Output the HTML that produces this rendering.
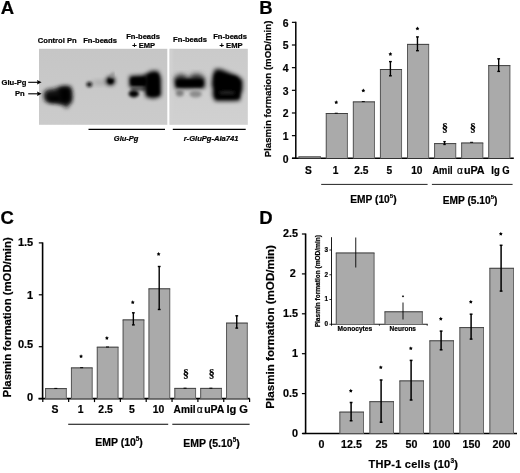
<!DOCTYPE html>
<html><head><meta charset="utf-8"><style>
html,body{margin:0;padding:0;background:#fff;}
body{width:520px;height:473px;overflow:hidden;}
svg{display:block;font-family:"Liberation Sans", sans-serif;filter:blur(0.3px);}
text{stroke:#000;stroke-width:0.2px;}
</style></head><body>
<svg width="520" height="473" viewBox="0 0 520 473" fill="#000">
<rect width="520" height="473" fill="#fff"/>
<text x="0.8" y="14.3" font-size="18.5" text-anchor="start" font-weight="bold" font-style="normal" >A</text>
<text x="259.3" y="13.5" font-size="18.5" text-anchor="start" font-weight="bold" font-style="normal" >B</text>
<text x="0.4" y="224.2" font-size="18.5" text-anchor="start" font-weight="bold" font-style="normal" >C</text>
<text x="259.2" y="224.2" font-size="18.5" text-anchor="start" font-weight="bold" font-style="normal" >D</text>
<text x="57.2" y="42.9" font-size="7.6" text-anchor="middle" font-weight="bold" font-style="normal" >Control Pn</text>
<text x="100.1" y="42.9" font-size="7.6" text-anchor="middle" font-weight="bold" font-style="normal" >Fn-beads</text>
<text x="143.1" y="38.8" font-size="7.6" text-anchor="middle" font-weight="bold" font-style="normal" >Fn-beads</text>
<text x="143.7" y="48.0" font-size="7.6" text-anchor="middle" font-weight="bold" font-style="normal" >+ EMP</text>
<text x="190.0" y="42.4" font-size="7.6" text-anchor="middle" font-weight="bold" font-style="normal" >Fn-beads</text>
<text x="230.1" y="38.8" font-size="7.6" text-anchor="middle" font-weight="bold" font-style="normal" >Fn-beads</text>
<text x="231.1" y="48.0" font-size="7.6" text-anchor="middle" font-weight="bold" font-style="normal" >+ EMP</text>
<text x="1.6" y="85.3" font-size="7.6" text-anchor="start" font-weight="bold" font-style="normal" >Glu-Pg</text>
<text x="15.0" y="96.4" font-size="7.6" text-anchor="start" font-weight="bold" font-style="normal" >Pn</text>
<defs>
<filter id="b1" x="-50%" y="-50%" width="200%" height="200%"><feGaussianBlur stdDeviation="1.4"/></filter>
<filter id="b2" x="-50%" y="-50%" width="200%" height="200%"><feGaussianBlur stdDeviation="2.6"/></filter>
<filter id="b3" x="-50%" y="-50%" width="200%" height="200%"><feGaussianBlur stdDeviation="1.0"/></filter>
<filter id="b4" x="-50%" y="-50%" width="200%" height="200%"><feGaussianBlur stdDeviation="2.0"/></filter>
<clipPath id="cb1"><rect x="39" y="48.8" width="128.3" height="76"/></clipPath>
<clipPath id="cb2"><rect x="169.5" y="48.8" width="78.3" height="76"/></clipPath>
<linearGradient id="gb" x1="0" y1="0" x2="0" y2="1"><stop offset="0" stop-color="#c6c6c6"/><stop offset="1" stop-color="#cbcbcb"/></linearGradient>
<linearGradient id="gb2" x1="0" y1="0" x2="0" y2="1"><stop offset="0" stop-color="#cacaca"/><stop offset="1" stop-color="#d1d1d1"/></linearGradient>
</defs>
<rect x="39" y="48.8" width="128.3" height="76" fill="url(#gb)" stroke="none" stroke-width="0"/>
<rect x="169.5" y="48.8" width="78.3" height="76" fill="url(#gb2)" stroke="none" stroke-width="0"/>
<g clip-path="url(#cb1)">
<path d="M43.5 93 L47 89.5 L53 89 L58 87.5 L64 85.8 L70.5 86.5 L72.5 93 L72 101 L69 105 L66.5 108.5 L63.5 105 L57 103.5 L50 103 L44.5 100.5 Z" fill="#141414" filter="url(#b4)"/>
<path d="M59 88 L70 88 L70.5 102 L60 103 Z" fill="#000" filter="url(#b4)"/>
<path d="M47 96 L60 95 L60 102 L48 101.5 Z" fill="#000" filter="url(#b4)"/>
<ellipse cx="100" cy="82.6" rx="9" ry="2.4" fill="#a8a8a8" filter="url(#b2)"/>
<ellipse cx="89.3" cy="84.5" rx="2.8" ry="2.4" fill="#111" filter="url(#b1)"/>
<ellipse cx="110.5" cy="80.9" rx="4.6" ry="4.4" fill="#000" filter="url(#b4)"/>
<ellipse cx="110.5" cy="81.0" rx="2.5" ry="2.5" fill="#000" filter="url(#b3)"/>
<line x1="111" y1="78" x2="113.5" y2="72.5" stroke="#8a8a8a" stroke-width="2.6" filter="url(#b1)"/>
<path d="M129.5 76 L148 75 L148 87.5 L129.5 87 Z" fill="#000" filter="url(#b4)"/>
<path d="M131 78 L146 78 L146 85.5 L131 85.5 Z" fill="#000" filter="url(#b1)"/>
<path d="M131 87 L146 87 L146 90.5 L131 90.5 Z" fill="#4a4a4a" filter="url(#b1)"/>
<ellipse cx="133.8" cy="93.8" rx="5.2" ry="3.6" fill="#000" filter="url(#b1)"/>
<path d="M145 75 L151 71 L158 71 L161 78 L161 96 L154 98.5 L146 97 L144.5 90 Z" fill="#000" filter="url(#b4)"/>
<path d="M148 75 L158 74 L159 95 L148 95 Z" fill="#000" filter="url(#b1)"/>
</g>
<g clip-path="url(#cb2)">
<rect x="169.5" y="48.8" width="3" height="76" fill="#d2d2d2" filter="url(#b3)"/>
<ellipse cx="181" cy="78" rx="6" ry="4" fill="#444" filter="url(#b2)"/>
<ellipse cx="196.5" cy="77.5" rx="7" ry="4" fill="#444" filter="url(#b2)"/>
<path d="M174.5 78.5 L204.5 78 L205 88 L175 88.5 Z" fill="#000" filter="url(#b4)"/>
<path d="M177 80 L202 80 L202 86.5 L177 86.5 Z" fill="#000" filter="url(#b1)"/>
<ellipse cx="179.8" cy="93.0" rx="4" ry="3.6" fill="#808080" filter="url(#b1)"/>
<ellipse cx="195.6" cy="94.0" rx="6.2" ry="3.4" fill="#8c8c8c" filter="url(#b1)"/>
<path d="M212.5 76 L215 69 L221 69.3 L230 73 L238 76 L242.5 80 L242.5 90 L240.5 95 L240 100.5 L232 101 L215 101 L212.5 95 L213 89 L211.5 85 Z" fill="#000" filter="url(#b4)"/>
<path d="M215 74 L236 77 L240 82 L239 98 L216 98 Z" fill="#000" filter="url(#b1)"/>
<ellipse cx="227" cy="92.8" rx="8" ry="1.8" fill="#262626" filter="url(#b1)"/>
</g>
<line x1="28.2" y1="82.3" x2="38.0" y2="82.3" stroke="#000" stroke-width="1.1"/>
<path d="M41.6 82.3 L37.0 80.0 L37.6 82.3 L37.0 84.6 Z" fill="#000"/>
<line x1="28.2" y1="93.8" x2="38.0" y2="93.8" stroke="#000" stroke-width="1.1"/>
<path d="M41.6 93.8 L37.0 91.5 L37.6 93.8 L37.0 96.1 Z" fill="#000"/>
<line x1="88.5" y1="129.4" x2="165" y2="129.4" stroke="#000" stroke-width="1.1"/>
<line x1="172.8" y1="129.4" x2="245.7" y2="129.4" stroke="#000" stroke-width="1.1"/>
<text x="126.1" y="141.2" font-size="7.5" text-anchor="middle" font-weight="bold" font-style="italic" >Glu-Pg</text>
<text x="211.1" y="141.0" font-size="7.6" text-anchor="middle" font-weight="bold" font-style="italic" >r-GluPg-Ala741</text>
<line x1="295.8" y1="21.840000000000003" x2="295.8" y2="158.3" stroke="#000" stroke-width="1.5"/>
<line x1="292.0" y1="158.3" x2="513.8" y2="158.3" stroke="#000" stroke-width="1.5"/>
<line x1="291.9" y1="158.3" x2="295.8" y2="158.3" stroke="#000" stroke-width="1.2"/>
<text x="288.5" y="162.5" font-size="10.4" text-anchor="end" font-weight="bold" font-style="normal" >0</text>
<line x1="291.9" y1="135.64000000000001" x2="295.8" y2="135.64000000000001" stroke="#000" stroke-width="1.2"/>
<text x="288.5" y="139.84" font-size="10.4" text-anchor="end" font-weight="bold" font-style="normal" >1</text>
<line x1="291.9" y1="112.98000000000002" x2="295.8" y2="112.98000000000002" stroke="#000" stroke-width="1.2"/>
<text x="288.5" y="117.18000000000002" font-size="10.4" text-anchor="end" font-weight="bold" font-style="normal" >2</text>
<line x1="291.9" y1="90.32000000000001" x2="295.8" y2="90.32000000000001" stroke="#000" stroke-width="1.2"/>
<text x="288.5" y="94.52000000000001" font-size="10.4" text-anchor="end" font-weight="bold" font-style="normal" >3</text>
<line x1="291.9" y1="67.66000000000001" x2="295.8" y2="67.66000000000001" stroke="#000" stroke-width="1.2"/>
<text x="288.5" y="71.86000000000001" font-size="10.4" text-anchor="end" font-weight="bold" font-style="normal" >4</text>
<line x1="291.9" y1="45.000000000000014" x2="295.8" y2="45.000000000000014" stroke="#000" stroke-width="1.2"/>
<text x="288.5" y="49.20000000000002" font-size="10.4" text-anchor="end" font-weight="bold" font-style="normal" >5</text>
<line x1="291.9" y1="22.340000000000003" x2="295.8" y2="22.340000000000003" stroke="#000" stroke-width="1.2"/>
<text x="288.5" y="26.540000000000003" font-size="10.4" text-anchor="end" font-weight="bold" font-style="normal" >6</text>
<text transform="translate(270.9,88.95) rotate(-90)" font-size="9.7" font-weight="bold" text-anchor="middle">Plasmin formation (mOD/min)</text>
<rect x="298.5" y="156.4" width="22.399999999999977" height="1.9000000000000057" fill="#aaaaaa" stroke="none" stroke-width="0"/>
<path d="M299.0 158.3 V156.9" fill="none" stroke="#585858" stroke-width="1"/>
<path d="M320.4 156.9 V158.3" fill="none" stroke="#686868" stroke-width="1"/>
<path d="M298.5 156.9 H320.9" fill="none" stroke="#404040" stroke-width="1"/>
<rect x="325.8" y="113.0" width="22.100000000000023" height="45.30000000000001" fill="#aaaaaa" stroke="none" stroke-width="0"/>
<path d="M326.3 158.3 V113.5" fill="none" stroke="#585858" stroke-width="1"/>
<path d="M347.40000000000003 113.5 V158.3" fill="none" stroke="#686868" stroke-width="1"/>
<path d="M325.8 113.5 H347.90000000000003" fill="none" stroke="#404040" stroke-width="1"/>
<rect x="352.87" y="101.4" width="22.100000000000023" height="56.900000000000006" fill="#aaaaaa" stroke="none" stroke-width="0"/>
<path d="M353.37 158.3 V101.9" fill="none" stroke="#585858" stroke-width="1"/>
<path d="M374.47 101.9 V158.3" fill="none" stroke="#686868" stroke-width="1"/>
<path d="M352.87 101.9 H374.97" fill="none" stroke="#404040" stroke-width="1"/>
<rect x="379.94" y="69.0" width="22.100000000000023" height="89.30000000000001" fill="#aaaaaa" stroke="none" stroke-width="0"/>
<path d="M380.44 158.3 V69.5" fill="none" stroke="#585858" stroke-width="1"/>
<path d="M401.54 69.5 V158.3" fill="none" stroke="#686868" stroke-width="1"/>
<path d="M379.94 69.5 H402.04" fill="none" stroke="#404040" stroke-width="1"/>
<rect x="407.01" y="43.9" width="22.100000000000023" height="114.4" fill="#aaaaaa" stroke="none" stroke-width="0"/>
<path d="M407.51 158.3 V44.4" fill="none" stroke="#585858" stroke-width="1"/>
<path d="M428.61 44.4 V158.3" fill="none" stroke="#686868" stroke-width="1"/>
<path d="M407.01 44.4 H429.11" fill="none" stroke="#404040" stroke-width="1"/>
<rect x="434.08000000000004" y="143.1" width="22.100000000000023" height="15.200000000000017" fill="#aaaaaa" stroke="none" stroke-width="0"/>
<path d="M434.58000000000004 158.3 V143.6" fill="none" stroke="#585858" stroke-width="1"/>
<path d="M455.68000000000006 143.6 V158.3" fill="none" stroke="#686868" stroke-width="1"/>
<path d="M434.08000000000004 143.6 H456.18000000000006" fill="none" stroke="#404040" stroke-width="1"/>
<rect x="461.15" y="142.5" width="22.100000000000023" height="15.800000000000011" fill="#aaaaaa" stroke="none" stroke-width="0"/>
<path d="M461.65 158.3 V143.0" fill="none" stroke="#585858" stroke-width="1"/>
<path d="M482.75 143.0 V158.3" fill="none" stroke="#686868" stroke-width="1"/>
<path d="M461.15 143.0 H483.25" fill="none" stroke="#404040" stroke-width="1"/>
<rect x="488.22" y="65.1" width="22.100000000000023" height="93.20000000000002" fill="#aaaaaa" stroke="none" stroke-width="0"/>
<path d="M488.72 158.3 V65.6" fill="none" stroke="#585858" stroke-width="1"/>
<path d="M509.82000000000005 65.6 V158.3" fill="none" stroke="#686868" stroke-width="1"/>
<path d="M488.22 65.6 H510.32000000000005" fill="none" stroke="#404040" stroke-width="1"/>
<line x1="390.39" y1="61.6" x2="390.39" y2="75.8" stroke="#000" stroke-width="1.4"/>
<line x1="388.99" y1="61.6" x2="391.78999999999996" y2="61.6" stroke="#000" stroke-width="1.4"/>
<line x1="388.99" y1="75.8" x2="391.78999999999996" y2="75.8" stroke="#000" stroke-width="1.4"/>
<line x1="417.46" y1="36.9" x2="417.46" y2="50.7" stroke="#000" stroke-width="1.4"/>
<line x1="416.06" y1="36.9" x2="418.85999999999996" y2="36.9" stroke="#000" stroke-width="1.4"/>
<line x1="416.06" y1="50.7" x2="418.85999999999996" y2="50.7" stroke="#000" stroke-width="1.4"/>
<line x1="498.67" y1="58.8" x2="498.67" y2="71.4" stroke="#000" stroke-width="1.4"/>
<line x1="497.27000000000004" y1="58.8" x2="500.07" y2="58.8" stroke="#000" stroke-width="1.4"/>
<line x1="497.27000000000004" y1="71.4" x2="500.07" y2="71.4" stroke="#000" stroke-width="1.4"/>
<line x1="444.53000000000003" y1="141.6" x2="444.53000000000003" y2="144.5" stroke="#000" stroke-width="1.3"/>
<line x1="443.33000000000004" y1="141.6" x2="445.73" y2="141.6" stroke="#000" stroke-width="1.3"/>
<line x1="443.33000000000004" y1="144.5" x2="445.73" y2="144.5" stroke="#000" stroke-width="1.3"/>
<line x1="470.09999999999997" y1="142.3" x2="473.09999999999997" y2="142.3" stroke="#000" stroke-width="1.0"/>
<line x1="334.75" y1="113.2" x2="337.75" y2="113.2" stroke="#000" stroke-width="0.9"/>
<line x1="361.82" y1="101.6" x2="364.82" y2="101.6" stroke="#000" stroke-width="0.9"/>
<polygon points="336.25,100.30 336.90,101.41 338.15,101.68 337.30,102.64 337.43,103.92 336.25,103.40 335.07,103.92 335.20,102.64 334.35,101.68 335.60,101.41" fill="#000"/>
<polygon points="363.32,88.60 363.97,89.71 365.22,89.98 364.37,90.94 364.50,92.22 363.32,91.70 362.14,92.22 362.27,90.94 361.42,89.98 362.67,89.71" fill="#000"/>
<polygon points="390.39,52.10 391.04,53.21 392.29,53.48 391.44,54.44 391.57,55.72 390.39,55.20 389.21,55.72 389.34,54.44 388.49,53.48 389.74,53.21" fill="#000"/>
<polygon points="417.46,26.60 418.11,27.71 419.36,27.98 418.51,28.94 418.64,30.22 417.46,29.70 416.28,30.22 416.41,28.94 415.56,27.98 416.81,27.71" fill="#000"/>
<text x="445.0" y="132.3" font-size="11.7" text-anchor="middle" font-weight="bold" font-family="Liberation Serif, serif">&#167;</text>
<text x="472.9" y="132.3" font-size="11.7" text-anchor="middle" font-weight="bold" font-family="Liberation Serif, serif">&#167;</text>
<text x="308.5" y="173.6" font-size="10.2" text-anchor="middle" font-weight="bold" font-style="normal" >S</text>
<text x="335.5" y="173.6" font-size="10.2" text-anchor="middle" font-weight="bold" font-style="normal" >1</text>
<text x="361.4" y="173.6" font-size="10.2" text-anchor="middle" font-weight="bold" font-style="normal" >2.5</text>
<text x="389.3" y="173.6" font-size="10.2" text-anchor="middle" font-weight="bold" font-style="normal" >5</text>
<text x="416.8" y="173.6" font-size="10.2" text-anchor="middle" font-weight="bold" font-style="normal" >10</text>
<text x="432.40000000000003" y="173.6" font-size="10.2" font-weight="bold" font-style="normal" textLength="20.199999999999978" lengthAdjust="spacingAndGlyphs">Amil</text>
<text x="460.0" y="173.6" font-size="10.2" text-anchor="middle" font-weight="normal" font-style="normal" >&#945;</text>
<text x="463.90000000000003" y="173.6" font-size="10.2" font-weight="bold" font-style="normal" textLength="20.699999999999978" lengthAdjust="spacingAndGlyphs">uPA</text>
<text x="491.3" y="173.6" font-size="10.2" font-weight="bold" font-style="normal" textLength="18.400000000000023" lengthAdjust="spacingAndGlyphs">Ig G</text>
<line x1="321.2" y1="184.4" x2="427.6" y2="184.4" stroke="#222" stroke-width="1.0"/>
<line x1="431.9" y1="184.4" x2="512.6" y2="184.4" stroke="#222" stroke-width="1.0"/>
<text x="373.4" y="203.0" font-size="10.2" font-weight="bold" text-anchor="middle">EMP (10<tspan font-size="6.12" dy="-5.30">5</tspan><tspan dy="5.30">)</tspan></text>
<text x="470.1" y="204.0" font-size="10.2" font-weight="bold" text-anchor="middle">EMP (5.10<tspan font-size="6.12" dy="-5.30">5</tspan><tspan dy="5.30">)</tspan></text>
<line x1="42.6" y1="242.40000000000003" x2="42.6" y2="398.6" stroke="#000" stroke-width="1.6"/>
<line x1="38.5" y1="398.6" x2="249.7" y2="398.6" stroke="#000" stroke-width="1.6"/>
<line x1="38.8" y1="398.6" x2="42.6" y2="398.6" stroke="#000" stroke-width="1.2"/>
<text x="33.2" y="400.5" font-size="11.0" text-anchor="end" font-weight="bold" font-style="normal" >0</text>
<line x1="38.8" y1="346.70000000000005" x2="42.6" y2="346.70000000000005" stroke="#000" stroke-width="1.2"/>
<text x="33.2" y="347.7" font-size="11.0" text-anchor="end" font-weight="bold" font-style="normal" >0.5</text>
<line x1="38.8" y1="294.8" x2="42.6" y2="294.8" stroke="#000" stroke-width="1.2"/>
<text x="33.2" y="298.7" font-size="11.0" text-anchor="end" font-weight="bold" font-style="normal" >1</text>
<line x1="38.8" y1="242.90000000000003" x2="42.6" y2="242.90000000000003" stroke="#000" stroke-width="1.2"/>
<text x="33.2" y="245.7" font-size="11.0" text-anchor="end" font-weight="bold" font-style="normal" >1.5</text>
<line x1="42.8" y1="398.6" x2="42.8" y2="402.1" stroke="#000" stroke-width="1.2"/>
<line x1="68.65" y1="398.6" x2="68.65" y2="402.1" stroke="#000" stroke-width="1.2"/>
<line x1="94.5" y1="398.6" x2="94.5" y2="402.1" stroke="#000" stroke-width="1.2"/>
<line x1="120.35000000000001" y1="398.6" x2="120.35000000000001" y2="402.1" stroke="#000" stroke-width="1.2"/>
<line x1="146.2" y1="398.6" x2="146.2" y2="402.1" stroke="#000" stroke-width="1.2"/>
<line x1="172.05" y1="398.6" x2="172.05" y2="402.1" stroke="#000" stroke-width="1.2"/>
<line x1="197.90000000000003" y1="398.6" x2="197.90000000000003" y2="402.1" stroke="#000" stroke-width="1.2"/>
<line x1="223.75" y1="398.6" x2="223.75" y2="402.1" stroke="#000" stroke-width="1.2"/>
<line x1="249.60000000000002" y1="398.6" x2="249.60000000000002" y2="402.1" stroke="#000" stroke-width="1.2"/>
<text transform="translate(11.2,317.35) rotate(-90)" font-size="11.35" font-weight="bold" text-anchor="middle">Plasmin formation (mOD/min)</text>
<rect x="45.099999999999994" y="388.1" width="21.700000000000003" height="10.5" fill="#aaaaaa" stroke="none" stroke-width="0"/>
<path d="M45.599999999999994 398.6 V388.6" fill="none" stroke="#585858" stroke-width="1"/>
<path d="M66.3 388.6 V398.6" fill="none" stroke="#686868" stroke-width="1"/>
<path d="M45.099999999999994 388.6 H66.8" fill="none" stroke="#404040" stroke-width="1"/>
<rect x="70.95" y="367.4" width="21.700000000000003" height="31.200000000000045" fill="#aaaaaa" stroke="none" stroke-width="0"/>
<path d="M71.45 398.6 V367.9" fill="none" stroke="#585858" stroke-width="1"/>
<path d="M92.15 367.9 V398.6" fill="none" stroke="#686868" stroke-width="1"/>
<path d="M70.95 367.9 H92.65" fill="none" stroke="#404040" stroke-width="1"/>
<rect x="96.8" y="346.7" width="21.700000000000003" height="51.900000000000034" fill="#aaaaaa" stroke="none" stroke-width="0"/>
<path d="M97.3 398.6 V347.2" fill="none" stroke="#585858" stroke-width="1"/>
<path d="M118.0 347.2 V398.6" fill="none" stroke="#686868" stroke-width="1"/>
<path d="M96.8 347.2 H118.5" fill="none" stroke="#404040" stroke-width="1"/>
<rect x="122.65" y="319.4" width="21.700000000000017" height="79.20000000000005" fill="#aaaaaa" stroke="none" stroke-width="0"/>
<path d="M123.15 398.6 V319.9" fill="none" stroke="#585858" stroke-width="1"/>
<path d="M143.85000000000002 319.9 V398.6" fill="none" stroke="#686868" stroke-width="1"/>
<path d="M122.65 319.9 H144.35000000000002" fill="none" stroke="#404040" stroke-width="1"/>
<rect x="148.5" y="288.3" width="21.69999999999999" height="110.30000000000001" fill="#aaaaaa" stroke="none" stroke-width="0"/>
<path d="M149.0 398.6 V288.8" fill="none" stroke="#585858" stroke-width="1"/>
<path d="M169.7 288.8 V398.6" fill="none" stroke="#686868" stroke-width="1"/>
<path d="M148.5 288.8 H170.2" fill="none" stroke="#404040" stroke-width="1"/>
<rect x="174.35000000000002" y="387.9" width="21.69999999999999" height="10.700000000000045" fill="#aaaaaa" stroke="none" stroke-width="0"/>
<path d="M174.85000000000002 398.6 V388.4" fill="none" stroke="#585858" stroke-width="1"/>
<path d="M195.55 388.4 V398.6" fill="none" stroke="#686868" stroke-width="1"/>
<path d="M174.35000000000002 388.4 H196.05" fill="none" stroke="#404040" stroke-width="1"/>
<rect x="200.20000000000005" y="387.9" width="21.69999999999999" height="10.700000000000045" fill="#aaaaaa" stroke="none" stroke-width="0"/>
<path d="M200.70000000000005 398.6 V388.4" fill="none" stroke="#585858" stroke-width="1"/>
<path d="M221.40000000000003 388.4 V398.6" fill="none" stroke="#686868" stroke-width="1"/>
<path d="M200.20000000000005 388.4 H221.90000000000003" fill="none" stroke="#404040" stroke-width="1"/>
<rect x="226.05" y="322.6" width="21.69999999999999" height="76.0" fill="#aaaaaa" stroke="none" stroke-width="0"/>
<path d="M226.55 398.6 V323.1" fill="none" stroke="#585858" stroke-width="1"/>
<path d="M247.25 323.1 V398.6" fill="none" stroke="#686868" stroke-width="1"/>
<path d="M226.05 323.1 H247.75" fill="none" stroke="#404040" stroke-width="1"/>
<line x1="133.35000000000002" y1="312.8" x2="133.35000000000002" y2="324.9" stroke="#000" stroke-width="1.4"/>
<line x1="131.95000000000002" y1="312.8" x2="134.75000000000003" y2="312.8" stroke="#000" stroke-width="1.4"/>
<line x1="131.95000000000002" y1="324.9" x2="134.75000000000003" y2="324.9" stroke="#000" stroke-width="1.4"/>
<line x1="159.2" y1="266.5" x2="159.2" y2="309.5" stroke="#000" stroke-width="1.4"/>
<line x1="157.79999999999998" y1="266.5" x2="160.6" y2="266.5" stroke="#000" stroke-width="1.4"/>
<line x1="157.79999999999998" y1="309.5" x2="160.6" y2="309.5" stroke="#000" stroke-width="1.4"/>
<line x1="236.75" y1="315.8" x2="236.75" y2="328.1" stroke="#000" stroke-width="1.4"/>
<line x1="235.35" y1="315.8" x2="238.15" y2="315.8" stroke="#000" stroke-width="1.4"/>
<line x1="235.35" y1="328.1" x2="238.15" y2="328.1" stroke="#000" stroke-width="1.4"/>
<line x1="54.3" y1="388.40000000000003" x2="57.3" y2="388.40000000000003" stroke="#000" stroke-width="1.0"/>
<line x1="80.15" y1="367.7" x2="83.15" y2="367.7" stroke="#000" stroke-width="1.0"/>
<line x1="106.0" y1="347.0" x2="109.0" y2="347.0" stroke="#000" stroke-width="1.0"/>
<line x1="183.55" y1="388.2" x2="186.55" y2="388.2" stroke="#000" stroke-width="1.0"/>
<line x1="209.40000000000003" y1="388.2" x2="212.40000000000003" y2="388.2" stroke="#000" stroke-width="1.0"/>
<polygon points="81.05,354.30 81.70,355.41 82.95,355.68 82.10,356.64 82.23,357.92 81.05,357.40 79.87,357.92 80.00,356.64 79.15,355.68 80.40,355.41" fill="#000"/>
<polygon points="106.90,336.10 107.55,337.21 108.80,337.48 107.95,338.44 108.08,339.72 106.90,339.20 105.72,339.72 105.85,338.44 105.00,337.48 106.25,337.21" fill="#000"/>
<polygon points="132.75,300.30 133.40,301.41 134.65,301.68 133.80,302.64 133.93,303.92 132.75,303.40 131.57,303.92 131.70,302.64 130.85,301.68 132.10,301.41" fill="#000"/>
<polygon points="158.60,252.10 159.25,253.21 160.50,253.48 159.65,254.44 159.78,255.72 158.60,255.20 157.42,255.72 157.55,254.44 156.70,253.48 157.95,253.21" fill="#000"/>
<text x="185.8" y="377.6" font-size="11.7" text-anchor="middle" font-weight="bold" font-family="Liberation Serif, serif">&#167;</text>
<text x="211.6" y="377.6" font-size="11.7" text-anchor="middle" font-weight="bold" font-family="Liberation Serif, serif">&#167;</text>
<text x="55.0" y="412.9" font-size="10.4" text-anchor="middle" font-weight="bold" font-style="normal" >S</text>
<text x="80.6" y="412.9" font-size="10.4" text-anchor="middle" font-weight="bold" font-style="normal" >1</text>
<text x="105.6" y="412.9" font-size="10.4" text-anchor="middle" font-weight="bold" font-style="normal" >2.5</text>
<text x="132.0" y="412.9" font-size="10.4" text-anchor="middle" font-weight="bold" font-style="normal" >5</text>
<text x="158.5" y="412.9" font-size="10.4" text-anchor="middle" font-weight="bold" font-style="normal" >10</text>
<text x="173.6" y="412.9" font-size="10.4" font-weight="bold" font-style="normal" textLength="21.99999999999999" lengthAdjust="spacingAndGlyphs">Amil</text>
<text x="199.8" y="412.9" font-size="10.4" text-anchor="middle" font-weight="normal" font-style="normal" >&#945;</text>
<text x="204.2" y="412.9" font-size="10.4" font-weight="bold" font-style="normal" textLength="20.200000000000006" lengthAdjust="spacingAndGlyphs">uPA</text>
<text x="226.4" y="412.9" font-size="10.2" font-weight="bold" font-style="normal" textLength="21.599999999999984" lengthAdjust="spacingAndGlyphs">Ig G</text>
<line x1="68.2" y1="424.3" x2="168.2" y2="424.3" stroke="#000" stroke-width="1.1"/>
<line x1="172.3" y1="424.3" x2="249.6" y2="424.3" stroke="#000" stroke-width="1.1"/>
<text x="119.0" y="446.2" font-size="10.5" font-weight="bold" text-anchor="middle">EMP (10<tspan font-size="6.30" dy="-5.46">5</tspan><tspan dy="5.46">)</tspan></text>
<text x="211.5" y="447.0" font-size="10.5" font-weight="bold" text-anchor="middle">EMP (5.10<tspan font-size="6.30" dy="-5.46">5</tspan><tspan dy="5.46">)</tspan></text>
<line x1="305.6" y1="233.5" x2="305.6" y2="433.5" stroke="#000" stroke-width="1.6"/>
<line x1="302.5" y1="433.5" x2="517.0" y2="433.5" stroke="#000" stroke-width="1.6"/>
<line x1="301.9" y1="433.5" x2="305.6" y2="433.5" stroke="#000" stroke-width="1.2"/>
<text x="298.0" y="436.9" font-size="10.8" text-anchor="end" font-weight="bold" font-style="normal" >0</text>
<line x1="301.9" y1="393.6" x2="305.6" y2="393.6" stroke="#000" stroke-width="1.2"/>
<text x="298.0" y="397.0" font-size="10.8" text-anchor="end" font-weight="bold" font-style="normal" >0.5</text>
<line x1="301.9" y1="353.7" x2="305.6" y2="353.7" stroke="#000" stroke-width="1.2"/>
<text x="298.0" y="357.09999999999997" font-size="10.8" text-anchor="end" font-weight="bold" font-style="normal" >1</text>
<line x1="301.9" y1="313.8" x2="305.6" y2="313.8" stroke="#000" stroke-width="1.2"/>
<text x="298.0" y="317.2" font-size="10.8" text-anchor="end" font-weight="bold" font-style="normal" >1.5</text>
<line x1="301.9" y1="273.9" x2="305.6" y2="273.9" stroke="#000" stroke-width="1.2"/>
<text x="295.8" y="277.29999999999995" font-size="10.8" text-anchor="end" font-weight="bold" font-style="normal" >2</text>
<line x1="301.9" y1="234.0" x2="305.6" y2="234.0" stroke="#000" stroke-width="1.2"/>
<text x="298.0" y="237.4" font-size="10.8" text-anchor="end" font-weight="bold" font-style="normal" >2.5</text>
<text transform="translate(274.0,326.85) rotate(-90)" font-size="11.6" font-weight="bold" text-anchor="middle">Plasmin formation (mOD/min)</text>
<rect x="339.4" y="411.6" width="24.600000000000023" height="21.899999999999977" fill="#aaaaaa" stroke="none" stroke-width="0"/>
<path d="M339.9 433.5 V412.1" fill="none" stroke="#585858" stroke-width="1"/>
<path d="M363.5 412.1 V433.5" fill="none" stroke="#686868" stroke-width="1"/>
<path d="M339.4 412.1 H364" fill="none" stroke="#404040" stroke-width="1"/>
<rect x="369.4" y="401.2" width="24.600000000000023" height="32.30000000000001" fill="#aaaaaa" stroke="none" stroke-width="0"/>
<path d="M369.9 433.5 V401.7" fill="none" stroke="#585858" stroke-width="1"/>
<path d="M393.5 401.7 V433.5" fill="none" stroke="#686868" stroke-width="1"/>
<path d="M369.4 401.7 H394" fill="none" stroke="#404040" stroke-width="1"/>
<rect x="399.4" y="380.4" width="24.600000000000023" height="53.10000000000002" fill="#aaaaaa" stroke="none" stroke-width="0"/>
<path d="M399.9 433.5 V380.9" fill="none" stroke="#585858" stroke-width="1"/>
<path d="M423.5 380.9 V433.5" fill="none" stroke="#686868" stroke-width="1"/>
<path d="M399.4 380.9 H424" fill="none" stroke="#404040" stroke-width="1"/>
<rect x="429.4" y="340.3" width="24.600000000000023" height="93.19999999999999" fill="#aaaaaa" stroke="none" stroke-width="0"/>
<path d="M429.9 433.5 V340.8" fill="none" stroke="#585858" stroke-width="1"/>
<path d="M453.5 340.8 V433.5" fill="none" stroke="#686868" stroke-width="1"/>
<path d="M429.4 340.8 H454" fill="none" stroke="#404040" stroke-width="1"/>
<rect x="459.4" y="327.1" width="24.600000000000023" height="106.39999999999998" fill="#aaaaaa" stroke="none" stroke-width="0"/>
<path d="M459.9 433.5 V327.6" fill="none" stroke="#585858" stroke-width="1"/>
<path d="M483.5 327.6 V433.5" fill="none" stroke="#686868" stroke-width="1"/>
<path d="M459.4 327.6 H484" fill="none" stroke="#404040" stroke-width="1"/>
<rect x="489.4" y="267.8" width="24.600000000000023" height="165.7" fill="#aaaaaa" stroke="none" stroke-width="0"/>
<path d="M489.9 433.5 V268.3" fill="none" stroke="#585858" stroke-width="1"/>
<path d="M513.5 268.3 V433.5" fill="none" stroke="#686868" stroke-width="1"/>
<path d="M489.4 268.3 H514" fill="none" stroke="#404040" stroke-width="1"/>
<line x1="351.1" y1="402.5" x2="351.1" y2="420.75" stroke="#000" stroke-width="1.5"/>
<line x1="349.70000000000005" y1="402.5" x2="352.5" y2="402.5" stroke="#000" stroke-width="1.5"/>
<line x1="349.70000000000005" y1="420.75" x2="352.5" y2="420.75" stroke="#000" stroke-width="1.5"/>
<polygon points="350.80,388.80 351.45,389.91 352.70,390.18 351.85,391.14 351.98,392.42 350.80,391.90 349.62,392.42 349.75,391.14 348.90,390.18 350.15,389.91" fill="#000"/>
<line x1="381.1" y1="380" x2="381.1" y2="422.2" stroke="#000" stroke-width="1.5"/>
<line x1="379.70000000000005" y1="380" x2="382.5" y2="380" stroke="#000" stroke-width="1.5"/>
<line x1="379.70000000000005" y1="422.2" x2="382.5" y2="422.2" stroke="#000" stroke-width="1.5"/>
<polygon points="380.80,365.40 381.45,366.51 382.70,366.78 381.85,367.74 381.98,369.02 380.80,368.50 379.62,369.02 379.75,367.74 378.90,366.78 380.15,366.51" fill="#000"/>
<line x1="411.1" y1="360.4" x2="411.1" y2="400" stroke="#000" stroke-width="1.5"/>
<line x1="409.70000000000005" y1="360.4" x2="412.5" y2="360.4" stroke="#000" stroke-width="1.5"/>
<line x1="409.70000000000005" y1="400" x2="412.5" y2="400" stroke="#000" stroke-width="1.5"/>
<polygon points="410.80,346.40 411.45,347.51 412.70,347.78 411.85,348.74 411.98,350.02 410.80,349.50 409.62,350.02 409.75,348.74 408.90,347.78 410.15,347.51" fill="#000"/>
<line x1="441.1" y1="331.1" x2="441.1" y2="349.8" stroke="#000" stroke-width="1.5"/>
<line x1="439.70000000000005" y1="331.1" x2="442.5" y2="331.1" stroke="#000" stroke-width="1.5"/>
<line x1="439.70000000000005" y1="349.8" x2="442.5" y2="349.8" stroke="#000" stroke-width="1.5"/>
<polygon points="440.80,316.80 441.45,317.91 442.70,318.18 441.85,319.14 441.98,320.42 440.80,319.90 439.62,320.42 439.75,319.14 438.90,318.18 440.15,317.91" fill="#000"/>
<line x1="471.1" y1="314.2" x2="471.1" y2="339.1" stroke="#000" stroke-width="1.5"/>
<line x1="469.70000000000005" y1="314.2" x2="472.5" y2="314.2" stroke="#000" stroke-width="1.5"/>
<line x1="469.70000000000005" y1="339.1" x2="472.5" y2="339.1" stroke="#000" stroke-width="1.5"/>
<polygon points="470.80,300.00 471.45,301.11 472.70,301.38 471.85,302.34 471.98,303.62 470.80,303.10 469.62,303.62 469.75,302.34 468.90,301.38 470.15,301.11" fill="#000"/>
<line x1="501.1" y1="245.3" x2="501.1" y2="291.1" stroke="#000" stroke-width="1.5"/>
<line x1="499.70000000000005" y1="245.3" x2="502.5" y2="245.3" stroke="#000" stroke-width="1.5"/>
<line x1="499.70000000000005" y1="291.1" x2="502.5" y2="291.1" stroke="#000" stroke-width="1.5"/>
<polygon points="500.80,232.00 501.45,233.11 502.70,233.38 501.85,234.34 501.98,235.62 500.80,235.10 499.62,235.62 499.75,234.34 498.90,233.38 500.15,233.11" fill="#000"/>
<text x="321.5" y="448.2" font-size="10.7" text-anchor="middle" font-weight="bold" font-style="normal" >0</text>
<text x="351.5" y="448.2" font-size="10.7" text-anchor="middle" font-weight="bold" font-style="normal" >12.5</text>
<text x="381.5" y="448.2" font-size="10.7" text-anchor="middle" font-weight="bold" font-style="normal" >25</text>
<text x="411.5" y="448.2" font-size="10.7" text-anchor="middle" font-weight="bold" font-style="normal" >50</text>
<text x="441.5" y="448.2" font-size="10.7" text-anchor="middle" font-weight="bold" font-style="normal" >100</text>
<text x="471.5" y="448.2" font-size="10.7" text-anchor="middle" font-weight="bold" font-style="normal" >150</text>
<text x="501.5" y="448.2" font-size="10.7" text-anchor="middle" font-weight="bold" font-style="normal" >200</text>
<text x="368.6" y="468.0" font-size="11" font-weight="bold" textLength="89.4" lengthAdjust="spacing">THP-1 cells (10<tspan font-size="6.6" dy="-5.2">3</tspan><tspan dy="5.2">)</tspan></text>
<line x1="331.5" y1="237.2" x2="331.5" y2="325.75" stroke="#000" stroke-width="0.9"/>
<line x1="331.0" y1="324.25" x2="427.7" y2="324.25" stroke="#000" stroke-width="0.9"/>
<line x1="379.4" y1="324.25" x2="379.4" y2="325.75" stroke="#000" stroke-width="0.8"/>
<line x1="427.2" y1="324.25" x2="427.2" y2="325.75" stroke="#000" stroke-width="0.8"/>
<line x1="329.4" y1="324.25" x2="331.5" y2="324.25" stroke="#000" stroke-width="0.8"/>
<text x="328.1" y="326.05" font-size="6.4" text-anchor="end" font-weight="bold" font-style="normal" >0</text>
<line x1="329.4" y1="299.5" x2="331.5" y2="299.5" stroke="#000" stroke-width="0.8"/>
<text x="328.1" y="301.3" font-size="6.4" text-anchor="end" font-weight="bold" font-style="normal" >1</text>
<line x1="329.4" y1="274.75" x2="331.5" y2="274.75" stroke="#000" stroke-width="0.8"/>
<text x="328.1" y="276.55" font-size="6.4" text-anchor="end" font-weight="bold" font-style="normal" >2</text>
<line x1="329.4" y1="250.0" x2="331.5" y2="250.0" stroke="#000" stroke-width="0.8"/>
<text x="328.1" y="251.8" font-size="6.4" text-anchor="end" font-weight="bold" font-style="normal" >3</text>
<rect x="335.8" y="252.5" width="38.69999999999999" height="71.75" fill="#aaaaaa" stroke="none" stroke-width="0"/>
<path d="M336.3 324.25 V253.0" fill="none" stroke="#585858" stroke-width="1"/>
<path d="M374.0 253.0 V324.25" fill="none" stroke="#686868" stroke-width="1"/>
<path d="M335.8 253.0 H374.5" fill="none" stroke="#404040" stroke-width="1"/>
<rect x="384.5" y="311.3" width="38.30000000000001" height="12.949999999999989" fill="#aaaaaa" stroke="none" stroke-width="0"/>
<path d="M385.0 324.25 V311.8" fill="none" stroke="#585858" stroke-width="1"/>
<path d="M422.3 311.8 V324.25" fill="none" stroke="#686868" stroke-width="1"/>
<path d="M384.5 311.8 H422.8" fill="none" stroke="#404040" stroke-width="1"/>
<line x1="355.75" y1="237.5" x2="355.75" y2="267.5" stroke="#000" stroke-width="0.9"/>
<line x1="403" y1="302.5" x2="403" y2="319.5" stroke="#000" stroke-width="0.9"/>
<polygon points="403.00,295.00 403.42,295.72 404.24,295.90 403.68,296.52 403.76,297.35 403.00,297.01 402.24,297.35 402.32,296.52 401.76,295.90 402.58,295.72" fill="#000"/>
<text x="337.6" y="331.4" font-size="6.5" font-weight="bold" textLength="34.6" lengthAdjust="spacingAndGlyphs">Monocytes</text>
<text x="389.6" y="331.4" font-size="6.5" font-weight="bold" textLength="26.4" lengthAdjust="spacingAndGlyphs">Neurons</text>
<text transform="translate(320.2,327.3) rotate(-90)" font-size="6.5" font-weight="bold" textLength="92.2" lengthAdjust="spacingAndGlyphs">Plasmin formation (mOD/min)</text>
</svg>
</body></html>
